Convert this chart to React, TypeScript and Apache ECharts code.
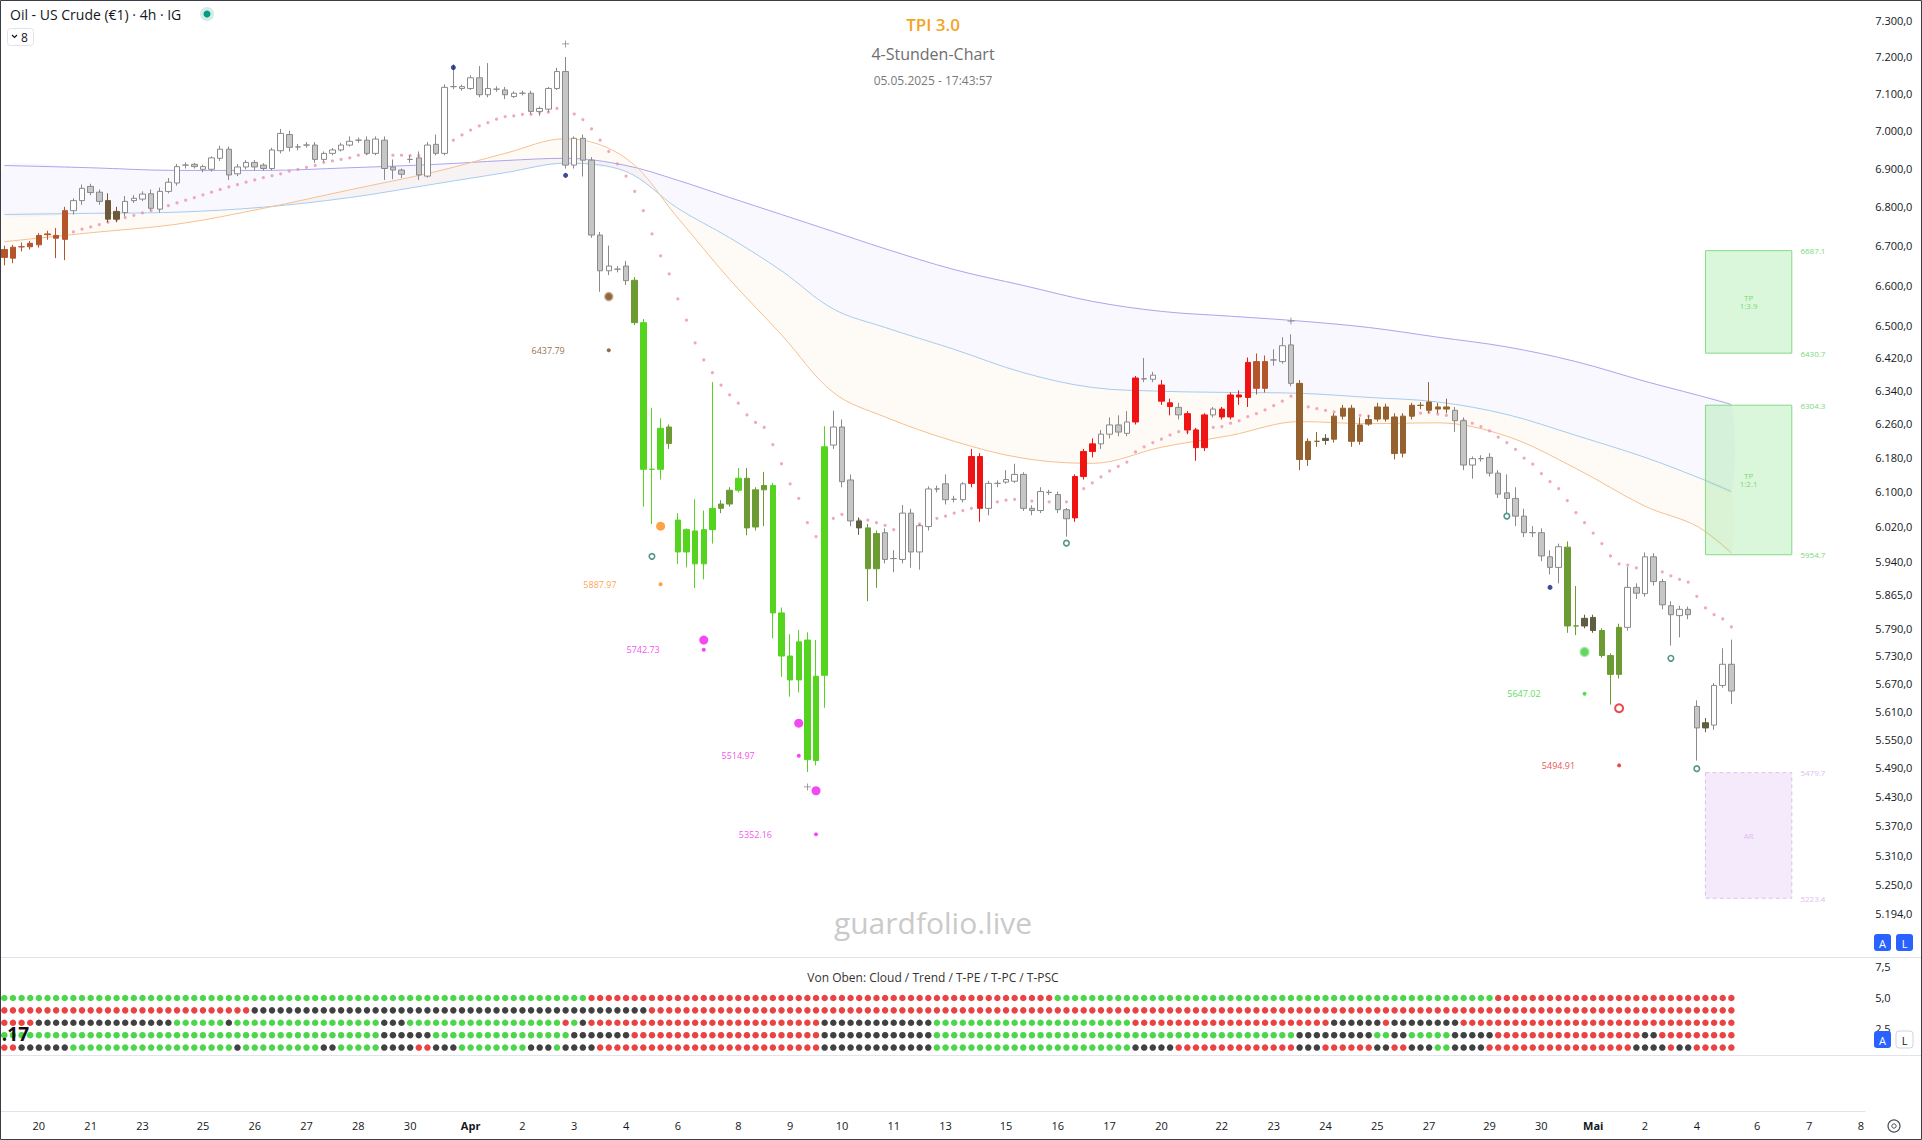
import React, { useEffect, useRef } from "react";
import * as echarts from "echarts";

const FONT = "'Open Sans', 'Noto Sans', sans-serif";
const L = Math.log;

// ---------- time axis ----------
const X_COUNT = 216;
const dayStarts: [number, string][] = [
  [4, "20"], [10, "21"], [16, "23"], [23, "25"], [29, "26"], [35, "27"], [41, "28"], [47, "30"],
  [54, "Apr"], [60, "2"], [66, "3"], [72, "4"], [78, "6"], [85, "8"], [91, "9"], [97, "10"],
  [103, "11"], [109, "13"], [116, "15"], [122, "16"], [128, "17"], [134, "20"], [141, "22"],
  [147, "23"], [153, "24"], [159, "25"], [165, "27"], [172, "29"], [178, "30"], [184, "Mai"],
  [190, "2"], [196, "4"], [203, "6"], [209, "7"], [215, "8"],
];

// ---------- price axis ticks ----------
const priceTicks = [7300, 7200, 7100, 7000, 6900, 6800, 6700, 6600, 6500, 6420, 6340, 6260, 6180, 6100,
  6020, 5940, 5865, 5790, 5730, 5670, 5610, 5550, 5490, 5430, 5370, 5310, 5250, 5194];
const lowerTicks = [2.5, 5, 7.5];

// ---------- candles [open, close, low, high, colorCode] ----------
const candles: [number, number, number, number, string][] = [
  [6690, 6670, 6650, 6700, "B"], [6696, 6668, 6655, 6702, "B"], [6697, 6697, 6685, 6708, "B"], [6697, 6706, 6690, 6712, "B"],
  [6702, 6726, 6695, 6732, "B"], [6728, 6730, 6715, 6738, "B"], [6719, 6726, 6668, 6745, "B"], [6716, 6790, 6663, 6800, "B"],
  [6790, 6816, 6780, 6822, "w"], [6816, 6848, 6805, 6858, "w"], [6853, 6837, 6830, 6860, "k"], [6838, 6814, 6805, 6845, "k"],
  [6816, 6768, 6760, 6835, "D"], [6788, 6768, 6760, 6800, "D"], [6785, 6814, 6775, 6828, "w"], [6816, 6822, 6810, 6830, "w"],
  [6820, 6833, 6815, 6840, "w"], [6834, 6796, 6790, 6845, "k"], [6794, 6840, 6785, 6850, "w"], [6840, 6864, 6835, 6875, "w"],
  [6862, 6905, 6855, 6912, "w"], [6909, 6909, 6900, 6916, "w"], [6911, 6905, 6900, 6915, "k"], [6898, 6905, 6890, 6910, "w"],
  [6898, 6928, 6892, 6932, "w"], [6927, 6951, 6920, 6960, "w"], [6951, 6883, 6870, 6958, "k"], [6886, 6904, 6880, 6912, "w"],
  [6904, 6916, 6898, 6922, "w"], [6916, 6904, 6895, 6922, "k"], [6909, 6900, 6894, 6914, "k"], [6900, 6949, 6895, 6955, "w"],
  [6947, 6993, 6940, 7005, "w"], [6990, 6956, 6945, 7000, "k"], [6957, 6957, 6948, 6965, "w"], [6962, 6962, 6955, 6970, "w"],
  [6962, 6924, 6915, 6970, "k"], [6924, 6940, 6918, 6945, "w"], [6940, 6949, 6935, 6954, "w"], [6949, 6962, 6945, 6968, "w"],
  [6962, 6972, 6958, 6985, "w"], [6975, 6975, 6968, 6982, "w"], [6975, 6940, 6935, 6985, "k"], [6940, 6978, 6935, 6985, "w"],
  [6975, 6900, 6870, 6985, "k"], [6904, 6896, 6872, 6924, "k"], [6896, 6885, 6875, 6900, "k"], [6924, 6924, 6915, 6935, "w"],
  [6928, 6883, 6870, 6945, "k"], [6880, 6962, 6876, 6970, "w"], [6964, 6940, 6935, 6990, "k"], [6940, 7117, 6935, 7125, "w"],
  [7119, 7119, 7112, 7180, "w"], [7119, 7114, 7108, 7124, "w"], [7114, 7143, 7110, 7150, "w"], [7143, 7097, 7090, 7175, "k"],
  [7097, 7114, 7090, 7183, "w"], [7112, 7112, 7105, 7120, "w"], [7110, 7097, 7085, 7118, "k"], [7092, 7101, 7088, 7106, "w"],
  [7101, 7101, 7095, 7108, "w"], [7101, 7052, 7045, 7108, "k"], [7052, 7060, 7040, 7065, "w"], [7058, 7114, 7050, 7118, "w"],
  [7114, 7160, 7110, 7170, "w"], [7160, 6909, 6900, 7200, "k"], [6909, 6980, 6900, 6985, "w"], [6980, 6922, 6879, 6990, "k"],
  [6922, 6727, 6720, 6930, "k"], [6727, 6636, 6583, 6735, "k"], [6636, 6648, 6625, 6700, "w"], [6640, 6640, 6632, 6648, "w"],
  [6648, 6611, 6600, 6661, "k"], [6612, 6506, 6500, 6620, "g"], [6506, 6152, 6065, 6515, "G"], [6152, 6152, 6025, 6298, "G"],
  [6152, 6249, 6128, 6273, "G"], [6213, 6252, 6200, 6258, "g"], [6034, 5961, 5934, 6050, "G"], [5961, 6012, 5926, 6015, "G"],
  [6009, 5934, 5879, 6082, "G"], [5934, 6012, 5899, 6056, "G"], [6012, 6061, 5980, 6360, "G"], [6061, 6071, 6050, 6080, "g"],
  [6071, 6103, 6065, 6110, "g"], [6103, 6131, 6098, 6155, "G"], [6131, 6016, 5999, 6155, "g"], [6018, 6104, 6010, 6110, "g"],
  [6104, 6114, 6020, 6146, "g"], [6114, 5824, 5768, 6120, "G"], [5824, 5729, 5684, 5836, "G"], [5729, 5677, 5641, 5777, "G"],
  [5677, 5760, 5650, 5786, "G"], [5764, 5507, 5481, 5781, "G"], [5505, 5685, 5495, 5764, "G"], [5687, 6205, 5617, 6254, "G"],
  [6209, 6252, 6200, 6291, "w"], [6252, 6123, 6110, 6270, "k"], [6127, 6032, 6020, 6140, "k"], [6032, 6016, 6000, 6040, "d"],
  [6016, 5923, 5850, 6025, "g"], [6003, 5923, 5880, 6010, "g"], [6005, 5944, 5935, 6015, "k"], [5946, 5946, 5915, 5965, "w"],
  [5944, 6050, 5935, 6069, "w"], [6050, 5961, 5925, 6060, "k"], [5961, 6021, 5921, 6025, "w"], [6019, 6106, 6010, 6112, "w"],
  [6106, 6106, 6098, 6114, "w"], [6118, 6081, 6070, 6140, "k"], [6082, 6082, 6075, 6090, "w"], [6081, 6118, 6075, 6122, "w"],
  [6119, 6182, 6110, 6200, "R"], [6182, 6061, 6030, 6190, "R"], [6061, 6119, 6045, 6125, "w"], [6119, 6119, 6110, 6126, "w"],
  [6122, 6128, 6118, 6150, "w"], [6124, 6140, 6120, 6165, "w"], [6140, 6061, 6055, 6145, "k"], [6061, 6056, 6045, 6068, "k"],
  [6056, 6100, 6050, 6110, "w"], [6098, 6098, 6092, 6104, "w"], [6093, 6058, 6050, 6100, "k"], [6058, 6037, 5996, 6062, "k"],
  [6039, 6135, 6030, 6140, "R"], [6135, 6194, 6128, 6200, "R"], [6194, 6212, 6180, 6225, "R"], [6212, 6235, 6200, 6245, "w"],
  [6235, 6257, 6225, 6275, "w"], [6257, 6240, 6230, 6280, "k"], [6237, 6264, 6230, 6290, "w"], [6264, 6370, 6258, 6375, "R"],
  [6368, 6368, 6360, 6419, "w"], [6367, 6377, 6360, 6385, "w"], [6353, 6314, 6305, 6365, "R"], [6310, 6301, 6280, 6320, "R"],
  [6299, 6281, 6270, 6310, "k"], [6284, 6245, 6235, 6290, "R"], [6245, 6203, 6172, 6250, "R"], [6203, 6281, 6195, 6285, "R"],
  [6281, 6295, 6275, 6300, "w"], [6276, 6295, 6270, 6300, "R"], [6276, 6329, 6270, 6335, "R"], [6324, 6329, 6305, 6340, "R"],
  [6323, 6408, 6300, 6420, "R"], [6345, 6410, 6330, 6430, "B"], [6410, 6345, 6335, 6425, "B"], [6414, 6414, 6400, 6440, "w"],
  [6410, 6449, 6405, 6470, "w"], [6451, 6357, 6350, 6477, "k"], [6357, 6175, 6150, 6365, "b"], [6175, 6218, 6160, 6225, "b"],
  [6218, 6218, 6205, 6240, "b"], [6220, 6225, 6210, 6235, "d"], [6223, 6278, 6215, 6285, "b"], [6278, 6297, 6270, 6305, "b"],
  [6297, 6218, 6205, 6305, "b"], [6218, 6257, 6210, 6275, "b"], [6259, 6270, 6255, 6280, "b"], [6271, 6300, 6265, 6310, "b"],
  [6300, 6271, 6265, 6308, "b"], [6276, 6189, 6175, 6285, "b"], [6190, 6278, 6180, 6285, "b"], [6278, 6304, 6270, 6310, "b"],
  [6304, 6304, 6295, 6312, "b"], [6292, 6312, 6285, 6360, "b"], [6300, 6295, 6285, 6310, "b"], [6300, 6295, 6285, 6320, "b"],
  [6292, 6267, 6240, 6300, "k"], [6267, 6162, 6150, 6275, "k"], [6162, 6177, 6130, 6182, "w"], [6177, 6177, 6170, 6185, "w"],
  [6180, 6143, 6135, 6190, "k"], [6143, 6094, 6085, 6150, "k"], [6097, 6084, 6050, 6140, "k"], [6084, 6043, 6020, 6110, "k"],
  [6043, 6005, 5995, 6060, "k"], [6005, 6005, 5995, 6020, "w"], [6005, 5952, 5940, 6015, "k"], [5950, 5926, 5910, 5965, "k"],
  [5926, 5973, 5890, 5980, "w"], [5972, 5795, 5780, 5985, "g"], [5795, 5795, 5775, 5884, "g"], [5795, 5812, 5790, 5820, "d"],
  [5814, 5785, 5780, 5820, "d"], [5785, 5730, 5725, 5790, "g"], [5730, 5689, 5624, 5735, "g"], [5689, 5792, 5680, 5800, "g"],
  [5792, 5881, 5785, 5927, "w"], [5881, 5868, 5855, 5890, "k"], [5867, 5950, 5860, 5960, "w"], [5950, 5894, 5885, 5958, "k"],
  [5894, 5842, 5832, 5900, "k"], [5840, 5820, 5752, 5850, "k"], [5818, 5832, 5770, 5840, "w"], [5832, 5820, 5810, 5838, "k"],
  [5620, 5574, 5505, 5633, "k"], [5585, 5574, 5565, 5595, "d"], [5580, 5665, 5570, 5670, "w"], [5665, 5711, 5660, 5746, "w"],
  [5711, 5653, 5625, 5765, "k"],
];
const lastPrice = 5653;

// ---------- moving-average cloud (sampled bars) ----------
const maIdx = [0, 10, 20, 30, 40, 50, 58, 65, 72, 78, 84, 90, 96, 102, 110, 118, 126, 134, 142, 150, 158, 166, 174, 182, 190, 196, 200];
const maLong = [6908, 6902, 6895, 6895, 6902, 6911, 6921, 6927, 6908, 6869, 6824, 6780, 6736, 6692, 6639, 6599, 6559, 6534, 6522, 6510, 6494, 6470, 6446, 6410, 6362, 6329, 6306];
const maMid = [6780, 6783, 6786, 6799, 6824, 6860, 6889, 6914, 6892, 6796, 6720, 6636, 6540, 6494, 6440, 6383, 6347, 6338, 6335, 6333, 6323, 6312, 6282, 6232, 6180, 6134, 6100];
const maShort = [6710, 6733, 6755, 6796, 6844, 6892, 6940, 6979, 6927, 6771, 6614, 6476, 6335, 6276, 6218, 6178, 6166, 6204, 6232, 6265, 6260, 6262, 6230, 6154, 6066, 6020, 5959];

// ---------- trailing stop dots ----------
const sarDots: [number, number][] = [
  [7, 6725], [8, 6735], [9, 6742], [10, 6748], [11, 6754], [12, 6760], [13, 6766], [14, 6772], [15, 6778], [16, 6784],
  [17, 6790], [18, 6796], [19, 6803], [20, 6810], [21, 6817], [22, 6824], [23, 6831], [24, 6838], [25, 6845], [26, 6852],
  [27, 6858], [28, 6864], [29, 6870], [30, 6876], [31, 6881], [32, 6886], [33, 6893], [34, 6898], [35, 6903], [36, 6908],
  [37, 6916], [38, 6920], [39, 6924], [40, 6928], [41, 6935], [42, 6940], [43, 6944], [44, 6946], [45, 6935], [46, 6935],
  [47, 6934], [48, 6934], [49, 6935], [50, 6949], [51, 6962], [52, 6975], [53, 6989], [54, 7002], [55, 7013], [56, 7022],
  [57, 7031], [58, 7038], [59, 7040], [60, 7044], [61, 7044], [62, 7049], [63, 7050], [64, 7060],
  [66, 7045], [67, 7030], [68, 7005], [69, 6975], [70, 6945], [71, 6912], [72, 6880], [73, 6840], [74, 6790], [75, 6730],
  [76, 6674], [77, 6628], [78, 6565], [79, 6512], [80, 6456], [81, 6414], [82, 6383], [83, 6353], [84, 6329], [85, 6309],
  [86, 6281], [87, 6263], [88, 6251], [89, 6210], [90, 6165], [91, 6118], [92, 6084], [93, 6028], [94, 5996],
  [96, 6038], [97, 6047], [98, 6047], [99, 6034], [100, 6034], [101, 6028], [102, 6022], [103, 6012], [104, 6015], [105, 6020],
  [106, 6025], [107, 6032], [108, 6038], [109, 6043], [110, 6050], [111, 6056], [112, 6061], [113, 6066], [114, 6073], [115, 6076],
  [116, 6080], [117, 6082], [118, 6084], [119, 6078], [120, 6076], [121, 6076], [122, 6076], [123, 6076], [124, 6092], [125, 6107],
  [126, 6120], [127, 6134], [128, 6148], [129, 6159], [130, 6169], [131, 6193], [132, 6205], [133, 6215], [134, 6223], [135, 6233],
  [136, 6241], [137, 6241], [138, 6245], [139, 6249], [140, 6251], [141, 6253], [142, 6261], [143, 6267], [144, 6277], [145, 6284],
  [146, 6293], [147, 6303], [148, 6314], [149, 6326],
  [151, 6300], [152, 6296], [153, 6292], [154, 6288], [155, 6285], [156, 6282], [157, 6280], [158, 6278], [159, 6276], [160, 6276],
  [161, 6274], [162, 6272], [163, 6280], [164, 6285], [165, 6287], [166, 6283], [167, 6280], [168, 6275], [169, 6268],
  [170, 6261], [171, 6253], [172, 6243], [173, 6228], [174, 6215], [175, 6199], [176, 6178], [177, 6164], [178, 6142], [179, 6123],
  [180, 6107], [181, 6079], [182, 6051], [183, 6028], [184, 6004], [185, 5980], [186, 5952], [187, 5934], [188, 5931], [189, 5925],
  [190, 5922], [191, 5920], [192, 5916], [193, 5907], [194, 5899], [195, 5893], [196, 5861], [197, 5835], [198, 5820], [199, 5811],
  [200, 5793],
];

// ---------- signal markers ----------
const navyDots: [number, number][] = [[52, 7171], [65, 6882], [179, 5881]];
const crossMarks: [number, number][] = [[65, 7236], [149, 6510], [93, 5450]];
const tealRings: [number, number][] = [[75, 5951], [123, 5981], [174, 6043], [193, 5724], [196, 5488]];
const bigSignals: { i: number; p: number; kind: string }[] = [
  { i: 70, p: 6571, kind: "brown" }, { i: 76, p: 6020, kind: "orange" }, { i: 81, p: 5764, kind: "magenta" },
  { i: 92, p: 5584, kind: "magenta" }, { i: 94, p: 5442, kind: "magenta" }, { i: 183, p: 5738, kind: "green" },
  { i: 187, p: 5616, kind: "redring" },
];
const levelMarks: { i: number; p: number; kind: string }[] = [
  { i: 70, p: 6437.79, kind: "brown" }, { i: 76, p: 5887.97, kind: "orange" }, { i: 81, p: 5742.73, kind: "magenta" },
  { i: 92, p: 5514.97, kind: "magenta" }, { i: 94, p: 5352.16, kind: "magenta" }, { i: 183, p: 5647.02, kind: "green" },
  { i: 187, p: 5494.91, kind: "red" },
];

// ---------- position boxes ----------
const boxes = [
  { from: 197, to: 207, top: 6687.1, bottom: 6430.7, label: "TP\n1:3.9", kind: "tp" },
  { from: 197, to: 207, top: 6304.3, bottom: 5954.7, label: "TP\n1:2.1", kind: "tp" },
  { from: 197, to: 207, top: 5479.7, bottom: 5223.4, label: "AR", kind: "ar" },
];
const boxLabelIdx = 208;

// ---------- lower panel: 5 rows of state dots (run lengths) ----------
const row1Runs: [string, number][] = [["G", 68], ["R", 54], ["G", 51], ["R", 28]];
const row2Runs: [string, number][] = [["R", 29], ["K", 46], ["R", 126]];
const row3Runs: [string, number][] = [["R", 4], ["K", 16], ["G", 6], ["K", 1], ["G", 17], ["K", 3], ["G", 18], ["R", 1], ["G", 1], ["K", 1],
  ["R", 27], ["K", 13], ["G", 23], ["R", 23], ["K", 6], ["R", 1], ["K", 8], ["R", 32]];
const row4Runs: [string, number][] = [["G", 44], ["K", 6], ["G", 16], ["K", 7], ["R", 22], ["K", 13], ["G", 42], ["K", 9], ["G", 2], ["K", 2],
  ["G", 5], ["K", 5], ["R", 17], ["K", 2], ["R", 9]];
const row5Runs: [string, number][] = [["R", 2], ["K", 6], ["G", 19], ["K", 1], ["G", 9], ["K", 2], ["G", 5], ["K", 4], ["R", 2], ["K", 3],
  ["G", 8], ["K", 3], ["G", 1], ["K", 4], ["R", 26], ["K", 13], ["G", 23], ["K", 5], ["R", 14], ["K", 3], ["R", 6], ["K", 2], ["R", 2],
  ["K", 3], ["G", 2], ["K", 4], ["R", 17], ["K", 4], ["R", 1], ["K", 2], ["R", 5]];
const rowValues = [5, 4, 3, 2, 1];

// ---------- styles ----------
const candlePalette: Record<string, [string, string]> = {
  B: ["#b5552b", "#b5552b"], b: ["#94612f", "#94612f"], D: ["#6d5837", "#6d5837"], R: ["#f01313", "#f01313"],
  G: ["#55d41f", "#55d41f"], g: ["#6d9b33", "#6d9b33"], d: ["#5f5d42", "#5f5d42"], w: ["#ffffff", "#8a8a8a"],
  k: ["#c6c6c6", "#8a8a8a"],
};
const dotPalette: Record<string, string> = { G: "#1fcc1f", R: "#e31414", K: "#111111" };
const levelColor: Record<string, string> = {
  brown: "#7a4a1c", orange: "#ff8a1c", magenta: "#f01cf0", green: "#2bd42b", red: "#e51c1c",
};

function fmtDe(v: number) {
  const r = Math.round(v * 10) / 10;
  const [a, b] = r.toFixed(1).split(".");
  return a.replace(/\B(?=(\d{3})+(?!\d))/g, ".") + "," + b;
}

function expandRuns(runs: [string, number][]) {
  const out: string[] = [];
  runs.forEach(([c, n]) => { for (let k = 0; k < n; k++) out.push(c); });
  return out;
}

function buildOption(): any {
  const cats = Array.from({ length: X_COUNT }, (_, i) => String(i));
  const labelByIdx: Record<number, string> = {};
  dayStarts.forEach(([i, s]) => { labelByIdx[i] = s; });

  const gridL = -3.4, gridR = 56.8;

  const candleData = candles.map(([o, c, l, h, code]) => ({
    value: [L(o), L(c), L(l), L(h)],
    itemStyle: {
      color: candlePalette[code][0], color0: candlePalette[code][0],
      borderColor: candlePalette[code][1], borderColor0: candlePalette[code][1], borderWidth: 1,
    },
  }));

  const lowerDots: any[] = [];
  [row1Runs, row2Runs, row3Runs, row4Runs, row5Runs].forEach((runs, r) => {
    expandRuns(runs).forEach((c, i) => {
      lowerDots.push({ value: [i, rowValues[r]], itemStyle: { color: dotPalette[c] } });
    });
  });

  const bigStyle: Record<string, any> = {
    brown: { color: "#6e4316", borderColor: "#c9a47c", borderWidth: 1.5, size: 8 },
    orange: { color: "#ff8a1c", borderColor: "#ff8a1c", borderWidth: 0, size: 9 },
    magenta: { color: "#f01cf0", borderColor: "#f01cf0", borderWidth: 0, size: 9 },
    green: { color: "#3dcc3d", borderColor: "#a6e8a6", borderWidth: 1.5, size: 9 },
    redring: { color: "#ffffff", borderColor: "#e51c1c", borderWidth: 2, size: 8 },
  };

  const priceLabel = fmtDe(lastPrice) + "\n16:02";

  return {
    animation: false,
    backgroundColor: "#ffffff",
    textStyle: { fontFamily: FONT },
    grid: [
      { left: gridL, right: gridR, top: 20.8, height: 892.2 },
      { left: gridL, right: gridR, top: 957, height: 103 },
      { left: gridL, right: gridR, top: 1060, height: 51 },
    ],
    xAxis: [0, 1, 2].map((g) => ({
      type: "category", gridIndex: g, data: cats, boundaryGap: true, show: g === 2,
      axisLine: { show: g === 2, lineStyle: { color: "#e0e3eb" } },
      axisTick: { show: false },
      splitLine: { show: false },
      axisLabel: {
        show: g === 2, interval: 0, margin: 9, fontSize: 11, color: "#131722", fontFamily: FONT,
        formatter: (_v: string, idx: number) => {
          const s = labelByIdx[idx];
          if (!s) return "";
          return s === "Apr" || s === "Mai" ? `{m|${s}}` : s;
        },
        rich: { m: { fontWeight: "bold", fontSize: 11, color: "#131722", fontFamily: FONT } },
      },
    })),
    yAxis: [
      {
        type: "value", gridIndex: 0, position: "right", min: L(5194), max: L(7300),
        splitLine: { show: false }, axisLine: { show: false }, axisTick: { show: false },
        axisLabel: {
          customValues: priceTicks.map(L), formatter: (v: number) => fmtDe(Math.exp(v)),
          fontSize: 11, color: "#131722", margin: 10, fontFamily: FONT,
        },
      },
      {
        type: "value", gridIndex: 1, position: "right", min: 0, max: 8.3,
        splitLine: { show: false }, axisLine: { show: false }, axisTick: { show: false },
        axisLabel: {
          customValues: lowerTicks, formatter: (v: number) => v.toFixed(1).replace(".", ","),
          fontSize: 11, color: "#131722", margin: 10, fontFamily: FONT,
        },
      },
      { type: "value", gridIndex: 2, show: false, min: 0, max: 1 },
    ],
    series: [
      {
        type: "custom", name: "cloud", xAxisIndex: 0, yAxisIndex: 0, silent: true, z: 1,
        data: [[0, L(6500)]],
        renderItem: (_p: any, api: any) => {
          const top = maIdx.map((x, k) => api.coord([x, L(maLong[k])]));
          const mid = maIdx.map((x, k) => api.coord([x, L(maMid[k])]));
          const low = maIdx.map((x, k) => api.coord([x, L(maShort[k])]));
          return {
            type: "group",
            children: [
              { type: "polygon", shape: { points: top.concat(mid.slice().reverse()), smooth: 0.2 }, style: { fill: "rgba(175,180,240,0.09)" } },
              { type: "polygon", shape: { points: mid.concat(low.slice().reverse()), smooth: 0.2 }, style: { fill: "rgba(250,205,170,0.10)" } },
            ],
          };
        },
      },
      ...[
        { d: maLong, c: "#aba5ec" },
        { d: maMid, c: "#a6cdee" },
        { d: maShort, c: "#f7c08e" },
      ].map((m) => ({
        type: "line", xAxisIndex: 0, yAxisIndex: 0, smooth: 0.35, showSymbol: false, silent: true, z: 2,
        data: maIdx.map((x, k) => [x, L(m.d[k])]),
        lineStyle: { color: m.c, width: 1 },
      })),
      {
        type: "scatter", name: "trail", xAxisIndex: 0, yAxisIndex: 0, symbolSize: 3.2, silent: true, z: 3,
        itemStyle: { color: "#ec92b2" },
        data: sarDots.map(([i, p]) => [i, L(p)]),
      },
      {
        type: "candlestick", name: "price", xAxisIndex: 0, yAxisIndex: 0, barWidth: 6, z: 4,
        data: candleData,
        markLine: {
          silent: true, symbol: ["none", "none"], animation: false,
          lineStyle: { opacity: 0 },
          label: {
            position: "end", formatter: priceLabel, backgroundColor: "#fdd39c", color: "#3d2a0e",
            fontSize: 11, lineHeight: 12, padding: [2, 4, 1, 3], distance: 3, fontFamily: FONT, align: "left",
          },
          data: [{ yAxis: L(lastPrice) }],
        },
      },
      {
        type: "scatter", xAxisIndex: 0, yAxisIndex: 0, symbolSize: 5, z: 6, silent: true,
        itemStyle: { color: "#0d1f80" },
        data: navyDots.map(([i, p]) => [i, L(p)]),
      },
      {
        type: "scatter", xAxisIndex: 0, yAxisIndex: 0, z: 6, silent: true, symbolSize: 7,
        symbol: "path://M4,0h1v4h4v1h-4v4h-1v-4h-4v-1h4z",
        itemStyle: { color: "#666666" },
        data: crossMarks.map(([i, p]) => [i, L(p)]),
      },
      {
        type: "scatter", xAxisIndex: 0, yAxisIndex: 0, z: 6, silent: true, symbolSize: 5.5,
        itemStyle: { color: "#ffffff", borderColor: "#2b7a6b", borderWidth: 1.6 },
        data: tealRings.map(([i, p]) => [i, L(p)]),
      },
      {
        type: "scatter", xAxisIndex: 0, yAxisIndex: 0, z: 6, silent: true,
        data: bigSignals.map((s) => ({
          value: [s.i, L(s.p)], symbolSize: bigStyle[s.kind].size,
          itemStyle: { color: bigStyle[s.kind].color, borderColor: bigStyle[s.kind].borderColor, borderWidth: bigStyle[s.kind].borderWidth },
        })),
      },
      {
        type: "scatter", xAxisIndex: 0, yAxisIndex: 0, z: 6, silent: true, symbolSize: 4,
        data: levelMarks.map((s) => ({
          value: [s.i, L(s.p)],
          itemStyle: { color: levelColor[s.kind] },
          label: {
            show: true, position: "left", distance: 42, formatter: s.p.toFixed(2),
            color: levelColor[s.kind], fontSize: 9, fontFamily: FONT,
          },
        })),
      },
      {
        type: "custom", name: "boxes", xAxisIndex: 0, yAxisIndex: 0, silent: true, z: 7,
        data: boxes.map((b, k) => [b.from, L(b.top), b.to, L(b.bottom), k]),
        renderItem: (_p: any, api: any) => {
          const b = boxes[api.value(4)];
          const p0 = api.coord([api.value(0), api.value(1)]);
          const p1 = api.coord([api.value(2), api.value(3)]);
          const lx = api.coord([boxLabelIdx, api.value(1)])[0];
          const tp = b.kind === "tp";
          const txtCol = tp ? "#7ad77a" : "#e0bced";
          return {
            type: "group",
            children: [
              {
                type: "rect", shape: { x: p0[0], y: p0[1], width: p1[0] - p0[0], height: p1[1] - p0[1] },
                style: {
                  fill: tp ? "rgba(90,220,90,0.22)" : "rgba(210,160,235,0.22)",
                  stroke: tp ? "#84da84" : "#e2bdf0", lineWidth: 1, lineDash: tp ? null : [4, 3],
                },
              },
              {
                type: "text", x: (p0[0] + p1[0]) / 2, y: (p0[1] + p1[1]) / 2,
                style: { text: b.label, fill: txtCol, fontSize: 8, align: "center", verticalAlign: "middle", textAlign: "center", textVerticalAlign: "middle", fontFamily: FONT },
              },
              {
                type: "text", x: lx, y: p0[1],
                style: { text: b.top.toFixed(1), fill: txtCol, fontSize: 8, align: "left", verticalAlign: "middle", textAlign: "left", textVerticalAlign: "middle", fontFamily: FONT },
              },
              {
                type: "text", x: lx, y: p1[1],
                style: { text: b.bottom.toFixed(1), fill: txtCol, fontSize: 8, align: "left", verticalAlign: "middle", textAlign: "left", textVerticalAlign: "middle", fontFamily: FONT },
              },
            ],
          };
        },
      },
      {
        type: "scatter", name: "states", xAxisIndex: 1, yAxisIndex: 1, symbolSize: 6.5, silent: true,
        data: lowerDots,
      },
    ],
    graphic: {
      elements: [
        // pane separators
        { type: "line", shape: { x1: 0, y1: 957.5, x2: 1922, y2: 957.5 }, style: { stroke: "#e0e3eb", lineWidth: 1 }, z: 10 },
        { type: "line", shape: { x1: 0, y1: 1055.5, x2: 1922, y2: 1055.5 }, style: { stroke: "#e0e3eb", lineWidth: 1 }, z: 10 },
        // header
        { type: "text", x: 10, y: 14, style: { text: "Oil - US Crude (€1) · 4h · IG", fill: "#131722", fontSize: 14, fontFamily: FONT, verticalAlign: "middle", textVerticalAlign: "middle" }, z: 10 },
        { type: "circle", shape: { cx: 207, cy: 14, r: 7 }, style: { fill: "rgba(8,153,129,0.18)" }, z: 10 },
        { type: "circle", shape: { cx: 207, cy: 14, r: 3.5 }, style: { fill: "#089981" }, z: 10 },
        { type: "rect", shape: { x: 7.5, y: 28.5, width: 26, height: 17, r: 3 }, style: { fill: "#ffffff", stroke: "#e0e3eb" }, z: 10 },
        { type: "polyline", shape: { points: [[12, 35], [14.5, 37.5], [17, 35]] }, style: { stroke: "#131722", lineWidth: 1.2, fill: "none" }, z: 11 },
        { type: "text", x: 21, y: 37, style: { text: "8", fill: "#131722", fontSize: 12, fontFamily: FONT, verticalAlign: "middle", textVerticalAlign: "middle" }, z: 11 },
        // title
        { type: "text", x: 933, y: 24, style: { text: "TPI 3.0", fill: "#f5a41f", fontSize: 17, fontWeight: 600, fontFamily: FONT, align: "center", verticalAlign: "middle", textAlign: "center", textVerticalAlign: "middle" }, z: 10 },
        { type: "text", x: 933, y: 54, style: { text: "4-Stunden-Chart", fill: "#6e6e6e", fontSize: 16, fontFamily: FONT, align: "center", verticalAlign: "middle", textAlign: "center", textVerticalAlign: "middle" }, z: 10 },
        { type: "text", x: 933, y: 80, style: { text: "05.05.2025 - 17:43:57", fill: "#7a7a7a", fontSize: 12, fontFamily: FONT, align: "center", verticalAlign: "middle", textAlign: "center", textVerticalAlign: "middle" }, z: 10 },
        // watermark
        { type: "text", x: 933, y: 922, style: { text: "guardfolio.live", fill: "#cacaca", fontSize: 30, fontFamily: FONT, align: "center", verticalAlign: "middle", textAlign: "center", textVerticalAlign: "middle" }, z: 10 },
        // lower pane title
        { type: "text", x: 933, y: 977, style: { text: "Von Oben: Cloud / Trend / T-PE / T-PC / T-PSC", fill: "#333333", fontSize: 12, fontFamily: FONT, align: "center", verticalAlign: "middle", textAlign: "center", textVerticalAlign: "middle" }, z: 10 },
        { type: "text", x: -9, y: 1034, style: { text: "5.17", fill: "#111111", fontSize: 19, fontWeight: "bold", fontFamily: FONT, verticalAlign: "middle", textVerticalAlign: "middle" }, z: 10 },
        // A / L buttons
        { type: "rect", shape: { x: 1874, y: 934, width: 17, height: 17, r: 3 }, style: { fill: "#2962ff" }, z: 10 },
        { type: "text", x: 1882.5, y: 943, style: { text: "A", fill: "#ffffff", fontSize: 11, fontFamily: FONT, align: "center", verticalAlign: "middle", textAlign: "center", textVerticalAlign: "middle" }, z: 11 },
        { type: "rect", shape: { x: 1896, y: 934, width: 17, height: 17, r: 3 }, style: { fill: "#2962ff" }, z: 10 },
        { type: "text", x: 1904.5, y: 943, style: { text: "L", fill: "#ffffff", fontSize: 11, fontFamily: FONT, align: "center", verticalAlign: "middle", textAlign: "center", textVerticalAlign: "middle" }, z: 11 },
        { type: "rect", shape: { x: 1874, y: 1031, width: 17, height: 17, r: 3 }, style: { fill: "#2962ff" }, z: 10 },
        { type: "text", x: 1882.5, y: 1040, style: { text: "A", fill: "#ffffff", fontSize: 11, fontFamily: FONT, align: "center", verticalAlign: "middle", textAlign: "center", textVerticalAlign: "middle" }, z: 11 },
        { type: "rect", shape: { x: 1896, y: 1031, width: 17, height: 17, r: 3 }, style: { fill: "#ffffff", stroke: "#d1d4dc" }, z: 10 },
        { type: "text", x: 1904.5, y: 1040, style: { text: "L", fill: "#131722", fontSize: 11, fontFamily: FONT, align: "center", verticalAlign: "middle", textAlign: "center", textVerticalAlign: "middle" }, z: 11 },
        // settings icon
        { type: "circle", shape: { cx: 1894, cy: 1126, r: 6 }, style: { fill: "none", stroke: "#50535e", lineWidth: 1.2 }, z: 10 },
        { type: "circle", shape: { cx: 1894, cy: 1126, r: 2.2 }, style: { fill: "none", stroke: "#50535e", lineWidth: 1 }, z: 10 },
        // frame
        { type: "rect", shape: { x: 0.5, y: 0.5, width: 1921, height: 1139 }, style: { fill: "none", stroke: "#3a3d46", lineWidth: 1 }, z: 20 },
      ],
    },
  };
}

export default function App() {
  const ref = useRef<HTMLDivElement>(null);
  useEffect(() => {
    document.body.style.margin = "0";
    const chart = echarts.init(ref.current as HTMLDivElement, null, { renderer: "svg" });
    chart.setOption(buildOption());
    return () => chart.dispose();
  }, []);
  return <div ref={ref} style={{ width: 1922, height: 1140, background: "#ffffff" }} />;
}
